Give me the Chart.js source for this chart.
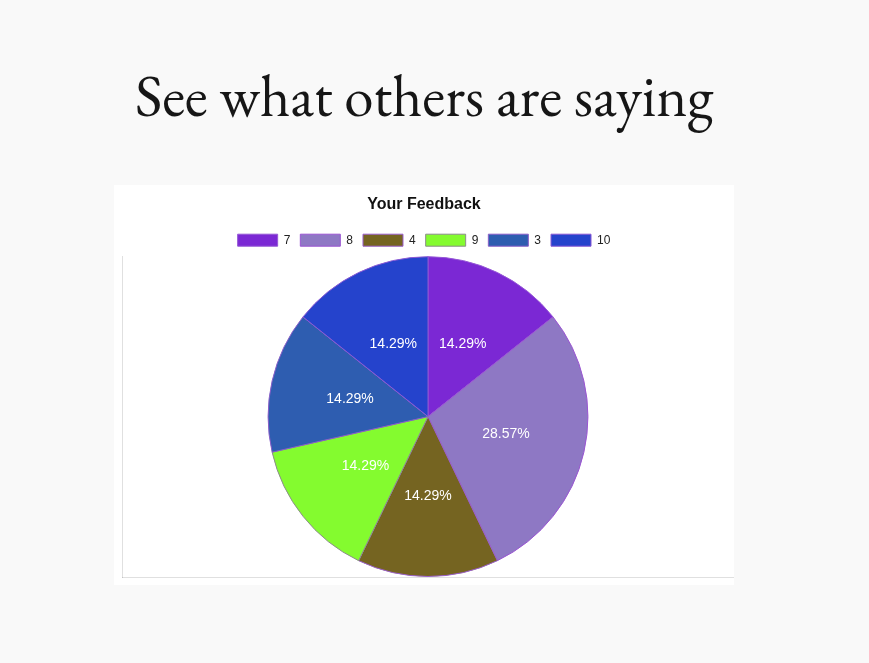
<!DOCTYPE html>
<html>
<head>
<meta charset="utf-8">
<script src="https://cdn.jsdelivr.net/npm/chart.js@4/dist/chart.umd.min.js"></script>
<style>
  html, body { margin: 0; padding: 0; background: #f9f9f9; width: 869px; height: 663px; overflow: hidden; }
  #heading { position: absolute; left: 74px; top: 66px; width: 700px; text-align: center;
    font-family: "EB Garamond", "Liberation Serif", serif; font-size: 59px; line-height: 59px; color: #161616; white-space: nowrap; }
  #box { position: absolute; left: 114px; top: 185px; width: 620px; height: 400px; background: #ffffff; }
  canvas { display: block; }
</style>
</head>
<body>
<div id="heading">See what others are saying</div>
<div id="box"><canvas id="c" width="620" height="400"></canvas></div>
<script>
const categories = ['7', '8', '4', '9', '3', '10'];
const counts = [1, 2, 1, 1, 1, 1];
const sliceColors = ['#7b28d4', '#8e78c4', '#756421', '#84fb2f', '#2e5db0', '#2543cc'];
const sliceBorders = ['#9557d6', '#9a55d2', '#9a5fcc', '#8c8c8c', '#8a5ec8', '#8a58d4'];

const pctLabels = {
  id: 'pctLabels',
  afterDatasetsDraw(chart) {
    const ctx = chart.ctx;
    const meta = chart.getDatasetMeta(0);
    const data = chart.data.datasets[0].data;
    const total = data.reduce((a, b) => a + b, 0);
    ctx.save();
    ctx.fillStyle = '#ffffff';
    ctx.font = '14px "Liberation Sans", Arial, Helvetica, sans-serif';
    ctx.textAlign = 'center';
    ctx.textBaseline = 'middle';
    meta.data.forEach((arc, i) => {
      const p = arc.tooltipPosition();
      ctx.fillText((data[i] / total * 100).toFixed(2) + '%', p.x, p.y);
    });
    ctx.restore();
  }
};

Chart.defaults.font.family = '"Liberation Sans", Arial, Helvetica, sans-serif';
Chart.defaults.color = '#222';

new Chart(document.getElementById('c'), {
  type: 'pie',
  data: {
    labels: categories,
    datasets: [{
      data: counts,
      backgroundColor: sliceColors,
      borderColor: sliceBorders,
      borderWidth: 1
    }]
  },
  options: {
    responsive: false,
    animation: false,
    scales: {
      x: { type: 'linear', display: true, ticks: { display: false }, grid: { display: false }, border: { display: true, color: 'rgba(0,0,0,0.12)' } },
      y: { type: 'linear', display: true, ticks: { display: false }, grid: { display: false }, border: { display: true, color: 'rgba(0,0,0,0.12)' } }
    },
    plugins: {
      title: { display: true, text: 'Your Feedback', font: { size: 16, weight: 'bold' }, color: '#111' },
      legend: { display: true, position: 'top', labels: { boxWidth: 40, font: { size: 12 }, color: '#222' } },
      tooltip: { enabled: false }
    }
  },
  plugins: [pctLabels]
});
</script>
</body>
</html>
